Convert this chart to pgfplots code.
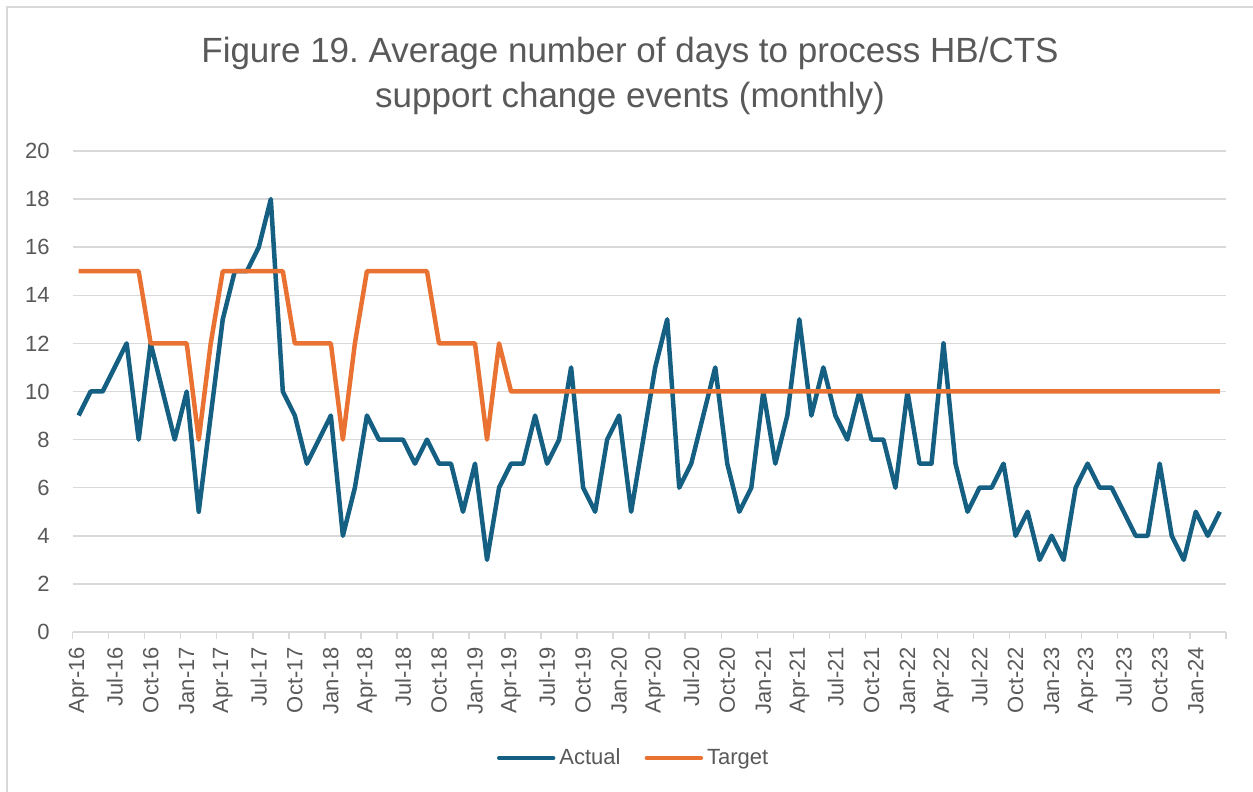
\documentclass[border=0pt]{standalone}
\usepackage{fontspec}
\setmainfont{Liberation Sans}
\usepackage{pgfplots}
\usepackage{pgfplotstable}
\pgfplotsset{compat=1.18}
\definecolor{actualc}{HTML}{156082}
\definecolor{targetc}{HTML}{E97132}
\definecolor{gridc}{HTML}{D9D9D9}
\definecolor{txtc}{HTML}{595959}
\pgfplotstableread{
i a t
0 9 15
1 10 15
2 10 15
3 11 15
4 12 15
5 8 15
6 12 12
7 10 12
8 8 12
9 10 12
10 5 8
11 9 12
12 13 15
13 15 15
14 15 15
15 16 15
16 18 15
17 10 15
18 9 12
19 7 12
20 8 12
21 9 12
22 4 8
23 6 12
24 9 15
25 8 15
26 8 15
27 8 15
28 7 15
29 8 15
30 7 12
31 7 12
32 5 12
33 7 12
34 3 8
35 6 12
36 7 10
37 7 10
38 9 10
39 7 10
40 8 10
41 11 10
42 6 10
43 5 10
44 8 10
45 9 10
46 5 10
47 8 10
48 11 10
49 13 10
50 6 10
51 7 10
52 9 10
53 11 10
54 7 10
55 5 10
56 6 10
57 10 10
58 7 10
59 9 10
60 13 10
61 9 10
62 11 10
63 9 10
64 8 10
65 10 10
66 8 10
67 8 10
68 6 10
69 10 10
70 7 10
71 7 10
72 12 10
73 7 10
74 5 10
75 6 10
76 6 10
77 7 10
78 4 10
79 5 10
80 3 10
81 4 10
82 3 10
83 6 10
84 7 10
85 6 10
86 6 10
87 5 10
88 4 10
89 4 10
90 7 10
91 4 10
92 3 10
93 5 10
94 4 10
95 5 10
}\datatable
\begin{document}
\frenchspacing
\begin{tikzpicture}
\useasboundingbox (0,0) rectangle (626.5pt,396pt);
\draw[gridc, line width=0.75pt] (3.6pt,0pt) -- (3.6pt,392.6pt) -- (626.5pt,392.6pt);
\node[anchor=base, text=txtc, font=\fontsize{17.5}{21}\selectfont, inner sep=0pt] at (315pt,364.9pt) {Figure 19. Average number of days to process HB/CTS};
\node[anchor=base, text=txtc, font=\fontsize{17.5}{21}\selectfont, inner sep=0pt] at (315pt,342.3pt) {support change events (monthly)};
\begin{axis}[
  at={(36.3pt,80pt)}, anchor=south west,
  width=576.6pt, height=240.5pt, scale only axis,
  xmin=-0.5, xmax=95.5, ymin=0, ymax=20,
  axis lines*=left,
  axis line style={-},
  x axis line style={draw=gridc, line width=0.75pt},
  y axis line style={draw=none},
  ytick={0,2,...,20},
  ymajorgrids,
  grid style={draw=gridc, line width=0.75pt},
  xtick={0,3,...,93},
  xticklabels={Apr-16,Jul-16,Oct-16,Jan-17,Apr-17,Jul-17,Oct-17,Jan-18,Apr-18,Jul-18,Oct-18,Jan-19,Apr-19,Jul-19,Oct-19,Jan-20,Apr-20,Jul-20,Oct-20,Jan-21,Apr-21,Jul-21,Oct-21,Jan-22,Apr-22,Jul-22,Oct-22,Jan-23,Apr-23,Jul-23,Oct-23,Jan-24},
  minor xtick={-0.5,2.5,...,95.5},
  major tick length=0pt,
  minor tick length=3.5pt,
  tick align=outside,
  minor tick style={draw=gridc, line width=0.75pt},
  major tick style={draw=none},
  /pgf/number format/assume math mode=true,
  ticklabel style={text=txtc, font=\fontsize{11}{13}\selectfont},
  yticklabel style={xshift=-8pt},
  xticklabel style={rotate=90, anchor=east, xshift=-4pt},
  legend style={at={(axis description cs:0.5,-0.262)}, xshift=-7.3pt, anchor=center, draw=none, fill=none,
    legend columns=2, font=\fontsize{11}{13}\selectfont, text=txtc,
    /tikz/every even column/.append style={column sep=10pt}},
  legend image code/.code={\draw[line cap=round, line width=2.25pt] (0pt,0pt) -- (27pt,0pt);},
]
\addplot[actualc, line width=2.25pt, line join=round] table[x=i, y=a] {\datatable};
\addlegendentry{Actual}
\addplot[targetc, line width=2.25pt, line join=round] table[x=i, y=t] {\datatable};
\addlegendentry{Target}
\end{axis}
\end{tikzpicture}
\end{document}
